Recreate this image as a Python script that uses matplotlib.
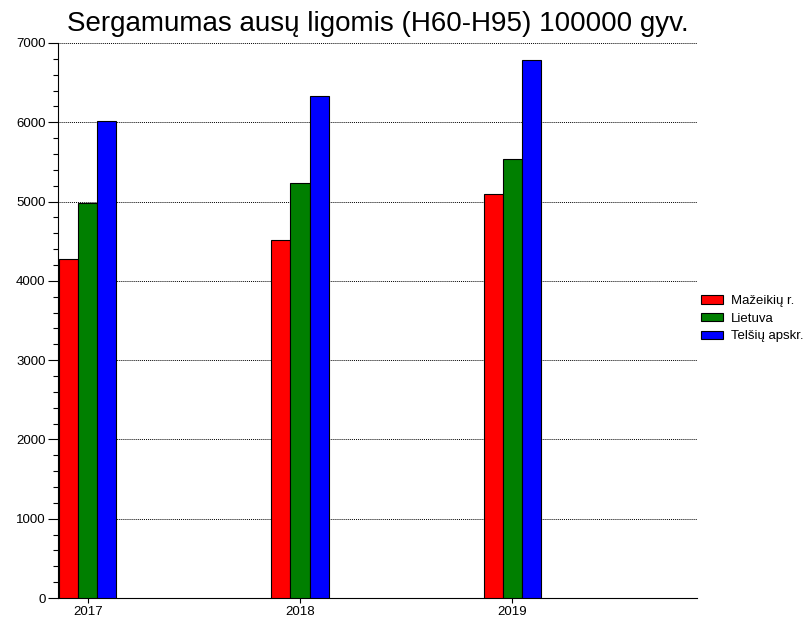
import matplotlib
matplotlib.use("Agg")
import matplotlib.pyplot as plt
import numpy as np
from matplotlib.ticker import MultipleLocator

plt.rcParams['font.family'] = ['Liberation Sans', 'DejaVu Sans']

years = [2017, 2018, 2019]
series_names = ["Mažeikių r.", "Lietuva", "Telšių apskr."]
mazeikiu = [4280, 4520, 5090]
lietuva = [4980, 5230, 5535]
telsiu = [6020, 6330, 6785]
colors = ["#ff0000", "#007f00", "#0000ff"]
title = "Sergamumas ausų ligomis (H60-H95) 100000 gyv."

fig = plt.figure(figsize=(8.10, 6.23), dpi=100)
ax = fig.add_axes([0.0716, 0.0401, 0.7889, 0.8909])

w = 0.09
x = np.array(years, dtype=float)
for i, (vals, name, c) in enumerate(zip([mazeikiu, lietuva, telsiu], series_names, colors)):
    ax.bar(x + (i - 1) * w, vals, width=w, color=c, edgecolor="black", linewidth=0.8,
           label=name, zorder=3)

ax.set_xlim(2016.86, 2019.87)
ax.set_ylim(0, 7000)
ax.set_xticks(years)
ax.set_xticklabels([str(y) for y in years])
ax.yaxis.set_major_locator(MultipleLocator(1000))
ax.yaxis.set_minor_locator(MultipleLocator(200))
ax.grid(axis='y', which='major', color='black', linestyle=(0, (1, 1)), linewidth=0.7, zorder=0)
for s in ['top', 'right']:
    ax.spines[s].set_visible(False)
ax.tick_params(axis='both', which='major', labelsize=9.5, width=0.8, pad=2)
ax.tick_params(axis='y', which='major', length=7)
ax.tick_params(axis='x', which='major', length=3.6)
ax.tick_params(axis='y', which='minor', length=3.6, width=0.8)

fig.text(0.466, 0.950, title, fontsize=20, ha='center', va='baseline')

fig.legend(loc='upper left', bbox_to_anchor=(0.8654, 0.526), frameon=False,
           fontsize=9.5, handlelength=1.67, handleheight=0.6, labelspacing=0.42,
           handletextpad=0.6, borderaxespad=0, borderpad=0)

fig.savefig("out.png", dpi=100)
